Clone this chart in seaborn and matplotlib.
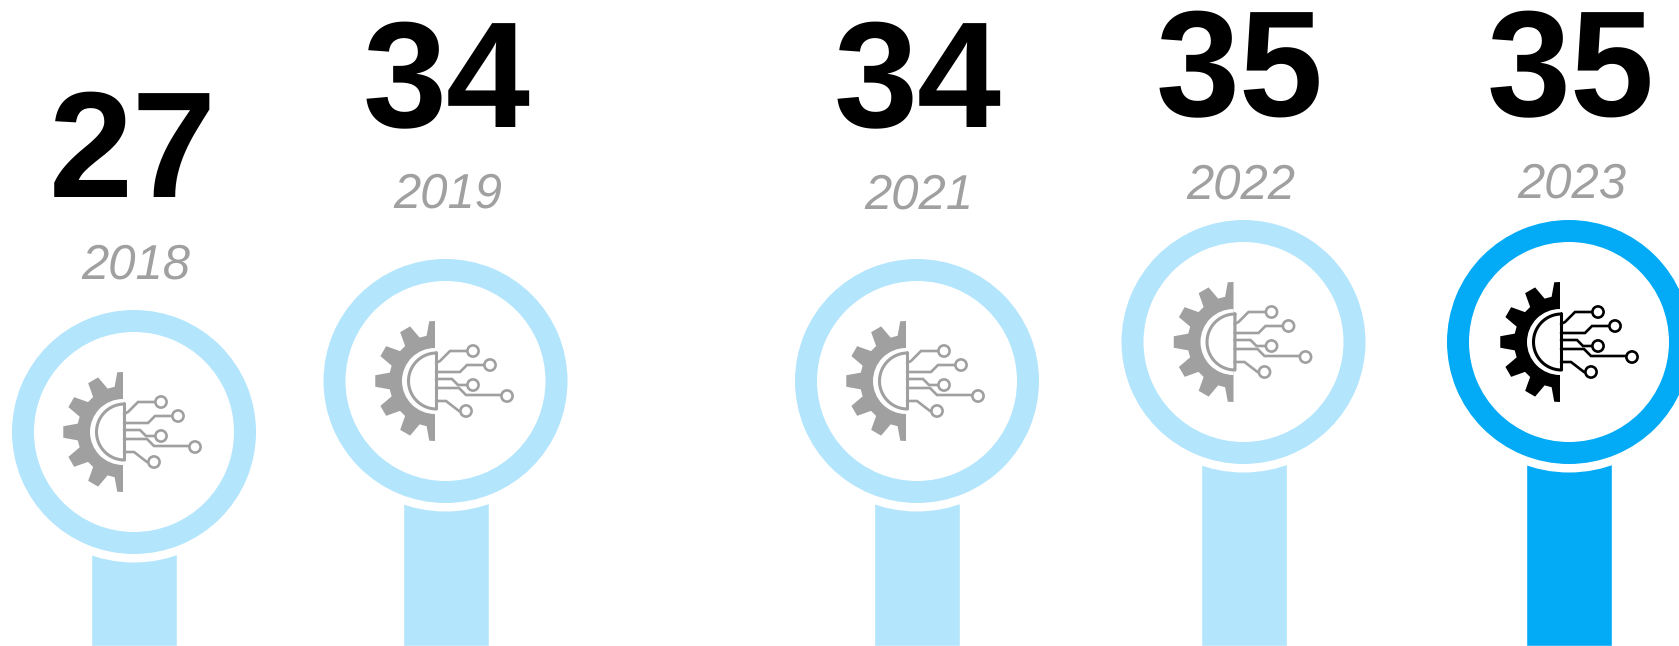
import numpy as np
import pandas as pd
import seaborn as sns
import matplotlib.pyplot as plt
from matplotlib.patches import Circle, Polygon, Wedge

years = ['2018', '2019', '2021', '2022', '2023']
values = [27, 34, 34, 35, 35]
# the chart is not to scale, so these are read off the picture
slot = [134, 445.5, 917, 1243.5, 1569]
level = [214, 265, 265, 304, 304]
value_height = [449, 519, 519, 530, 530]
year_height = [367, 438, 437, 447, 448]
value_slot = [133, 447, 917.5, 1240, 1571]
year_slot = [136, 447.5, 919, 1240.5, 1572]
icon_shift = [0, 0.5, 0, 1, 2]
highlight = ['no', 'no', 'no', 'no', 'yes']

LIGHT = '#B3E5FD'
DARK = '#03AAF6'
GREY = '#A0A0A0'

sns.set_theme(style='white')
plt.rcParams['font.family'] = ['Liberation Sans', 'DejaVu Sans']
plt.rcParams['text.hinting'] = 'no_hinting'
plt.rcParams['text.hinting_factor'] = 1

df = pd.DataFrame({'slot': slot, 'level': level, 'highlight': highlight})

fig, ax = plt.subplots(figsize=(16.79, 6.46), dpi=100)
ax.set_position([0, 0, 1, 1])
sns.barplot(data=df, x='slot', y='level', hue='highlight', native_scale=True,
            palette={'no': LIGHT, 'yes': DARK}, width=86 / 311.5, dodge=False,
            legend=False, saturation=1, ax=ax)
ax.set_xlim(0, 1679)
ax.set_ylim(0, 646)
ax.axis('off')


def draw_icon(cx, cy, col):
    # spine of the half gear sits a bit left of the ring centre
    sx = cx - 11
    pts = []
    for a in [90, 120, 150, 180, 210, 240, 270]:
        for da, r in [(-10.5, 46), (-5.5, 60), (5.5, 60), (10.5, 46)]:
            t = np.radians(a + da)
            if a + da < 90 or a + da > 270:
                continue
            pts.append((sx + r * np.cos(t), cy + r * np.sin(t)))
    pts = [(sx, cy + 60)] + pts + [(sx, cy - 60)]
    ax.add_patch(Polygon(pts, closed=True, fc=col, ec='none', zorder=5))
    ax.add_patch(Wedge((sx, cy), 33, 90, 270, fc='white', ec='none', zorder=6))
    # dome in the middle of the gear
    t = np.radians(np.linspace(90, 270, 60))
    dx = sx + 1.5 + 28 * np.cos(t)
    dy = cy + 28 * np.sin(t)
    ax.plot(np.r_[dx, dx[0]], np.r_[dy, dy[0]], color=col, lw=2.2, zorder=7)
    # circuit traces, offsets from the centre
    traces = [
        [(-10, 18), (-6, 20), (4, 30), (21, 30)],
        [(-10, 9), (14, 9), (21, 16), (38, 16)],
        [(-10, 2), (6, 2), (12, -4), (21, -4)],
        [(-10, -7), (13, -7), (20, -14), (55, -14)],
        [(-10, -20), (0, -20), (13, -30), (14, -30)],
    ]
    for tr in traces:
        tr = np.array(tr)
        ax.plot(cx + tr[:, 0], cy + tr[:, 1], color=col, lw=1.9, zorder=7,
                solid_joinstyle='miter')
    for ox, oy in [(27, 30), (44, 16), (27, -4), (61, -15), (20, -30)]:
        ax.add_patch(Circle((cx + ox, cy + oy), 5.6, fc='white', ec=col,
                            lw=1.9, zorder=8))


for i in range(len(years)):
    x, y = slot[i], level[i]
    col = DARK if highlight[i] == 'yes' else LIGHT
    ax.add_patch(Circle((x, y), 130.5, fc='white', ec='none', zorder=3))
    ax.add_patch(Wedge((x, y), 122, 0, 360, width=22, fc=col, ec='none', zorder=4))
    draw_icon(x + icon_shift[i], y, 'black' if highlight[i] == 'yes' else GREY)
    ax.text(value_slot[i], value_height[i], str(values[i]), ha='center', va='baseline',
            fontsize=109, fontweight='bold', color='black', zorder=9)
    ax.text(year_slot[i], year_height[i], years[i], ha='center', va='baseline',
            fontsize=35.5, fontstyle='italic', color=GREY, zorder=9)

fig.savefig('out.png', dpi=100)
